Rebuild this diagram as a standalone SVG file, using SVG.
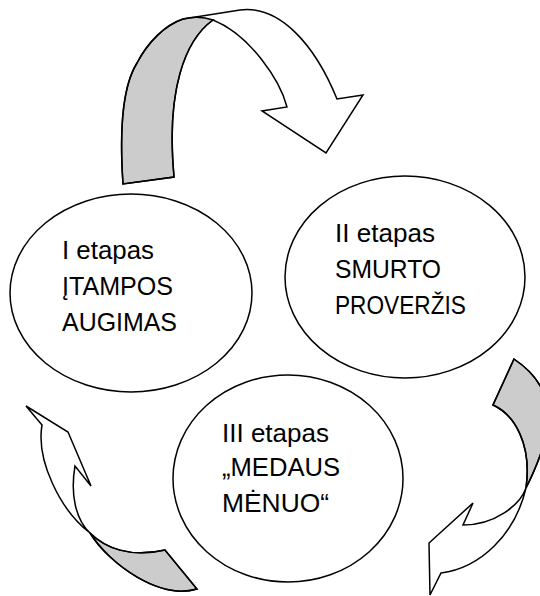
<svg xmlns="http://www.w3.org/2000/svg" width="540" height="596" viewBox="0 0 540 596">
<style>
.bg{fill:#ffffff}
.node ellipse{fill:#ffffff;stroke:#000000;stroke-width:1.5}
.lbl{font-family:"Liberation Sans",Arial,sans-serif;font-size:25px;fill:#000000}
.back{fill:#cccccc;stroke:#000000;stroke-width:1.5;stroke-linejoin:miter}
.ribbon{fill:none;stroke:#000000;stroke-width:1.5;stroke-linejoin:miter}
</style>
<rect class="bg" x="0" y="0" width="540" height="596"/>
<g id="connectors">
  <g id="arrow-top">
    <path class="back" d="M123,184 C120,140 120,90 137,63 C148,42 165,25 183,19 Q199,15 213,20 C185,40 166,90 174,177 Z"/>
    <path class="ribbon" d="M123,184 C120,140 120,90 137,63 C148,42 165,25 183,19 L240,10 C280,5 315,45 337,99 L363,95 L326,153 L262,111 L287,107 C280,80 250,35 213,20 C185,40 166,90 174,177 Z"/>
  </g>
  <g id="arrow-right">
    <path class="back" d="M514,359 L493,405 C515,415 532,445 526,488 C555,430 560,390 514,359 Z"/>
    <path class="ribbon" d="M514,359 L493,405 C515,415 532,445 526,488 C520,505 495,525 463,525 L473,503 L429,543 L430,595 L441,573 C480,568 515,535 526,488 C555,430 560,390 514,359 Z"/>
  </g>
  <g id="arrow-left">
    <path class="back" d="M90,533 C105,548 130,558 165,550 L197,589 C160,600 110,565 90,533 Z"/>
    <path class="ribbon" d="M42,425 L26,406 L68,432 L91,486 L75,466 C70,495 76,520 90,533 C105,548 130,558 165,550 L197,589 C160,600 110,565 90,533 C60,510 36,460 42,425 Z"/>
  </g>
</g>
<g id="node-1" class="node">
  <ellipse cx="131" cy="293" rx="121" ry="99"/>
  <text class="lbl" x="62" y="259" textLength="92" lengthAdjust="spacingAndGlyphs">I etapas</text>
  <text class="lbl" x="62" y="295" textLength="111" lengthAdjust="spacingAndGlyphs">ĮTAMPOS</text>
  <text class="lbl" x="62" y="331" textLength="115" lengthAdjust="spacingAndGlyphs">AUGIMAS</text>
</g>
<g id="node-2" class="node">
  <ellipse cx="405" cy="277" rx="120" ry="101"/>
  <text class="lbl" x="335" y="242" textLength="100" lengthAdjust="spacingAndGlyphs">II etapas</text>
  <text class="lbl" x="335" y="278" textLength="106" lengthAdjust="spacingAndGlyphs">SMURTO</text>
  <text class="lbl" x="335" y="314" textLength="131" lengthAdjust="spacingAndGlyphs">PROVERŽIS</text>
</g>
<g id="node-3" class="node">
  <ellipse cx="288" cy="478.5" rx="115" ry="103.5"/>
  <text class="lbl" x="222" y="442" textLength="107" lengthAdjust="spacingAndGlyphs">III etapas</text>
  <text class="lbl" x="222" y="476" textLength="118" lengthAdjust="spacingAndGlyphs">„MEDAUS</text>
  <text class="lbl" x="222" y="512" textLength="107" lengthAdjust="spacingAndGlyphs">MĖNUO“</text>
</g>
</svg>
